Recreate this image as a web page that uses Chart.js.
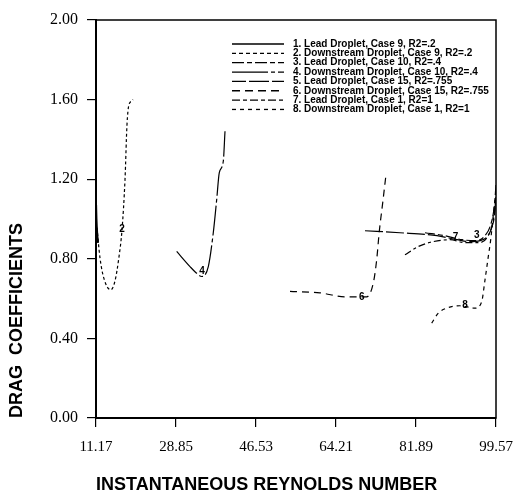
<!DOCTYPE html>
<html>
<head>
<meta charset="utf-8">
<script src="https://cdn.jsdelivr.net/npm/chart.js@4.4.0/dist/chart.umd.min.js"></script>
<style>
  html, body { margin: 0; padding: 0; background: #fff; }
  #wrap { width: 525px; height: 497px; }
</style>
</head>
<body>
<div id="wrap"><canvas id="grafico" width="525" height="497"></canvas></div>
<script>
// tick values
const xTicks = [11.17, 28.85, 46.53, 64.21, 81.89, 99.57];
const yTicks = [0, 0.4, 0.8, 1.2, 1.6, 2.0];

// series (Reynolds number, drag coefficient)
const lead9Re = [11.17, 11.25, 11.4, 11.6];
const lead9Cd = [1.07, 1.0, 0.93, 0.88];

const down9Re = [11.39, 12.05, 12.94, 14.42, 15.37, 16.25, 16.92, 17.58, 18.02, 18.46, 19.06, 19.35];
const down9Cd = [0.956, 0.805, 0.70, 0.644, 0.689, 0.81, 0.946, 1.198, 1.475, 1.575, 1.592, 1.60];

const lead10Re = [83.88, 88.3, 92.06, 94.93, 97.14, 98.46, 99.24, 99.57];
const lead10Cd = [0.931, 0.916, 0.896, 0.891, 0.916, 0.976, 1.072, 1.173];

const down10Re = [29.0, 31.94, 33.27, 34.53, 35.99, 37.09, 37.84, 38.42, 39.3, 39.68];
const down10Cd = [0.837, 0.761, 0.73, 0.711, 0.761, 0.931, 1.097, 1.233, 1.29, 1.441];

const lead15Re = [70.62, 78.35, 86.53, 90.95, 93.82, 96.03, 97.58, 98.68, 99.35, 99.57];
const lead15Cd = [0.941, 0.931, 0.916, 0.896, 0.886, 0.891, 0.911, 0.961, 1.047, 1.147];

const down15Re = [54.04, 60.67, 66.2, 70.99, 72.45, 73.2, 73.78, 74.53, 75.26];
const down15Cd = [0.636, 0.629, 0.609, 0.609, 0.678, 0.795, 0.938, 1.081, 1.223];

const lead1Re = [79.46, 82.33, 85.65, 89.41, 92.72, 95.6, 97.58, 98.91, 99.57];
const lead1Cd = [0.82, 0.861, 0.886, 0.896, 0.881, 0.881, 0.906, 0.986, 1.097];

const down1Re = [85.36, 86.82, 88.67, 91.61, 94.93, 96.41, 97.14, 97.87, 98.4, 98.91, 99.35];
const down1Cd = [0.477, 0.527, 0.552, 0.564, 0.552, 0.585, 0.694, 0.812, 0.896, 1.007, 1.097];

const legendLabels = [
  "1. Lead Droplet, Case 9, R2=.2",
  "2. Downstream Droplet, Case 9, R2=.2",
  "3. Lead Droplet, Case 10, R2=.4",
  "4. Downstream Droplet, Case 10, R2=.4",
  "5. Lead Droplet, Case 15, R2=.755",
  "6. Downstream Droplet, Case 15, R2=.755",
  "7. Lead Droplet, Case 1, R2=1",
  "8. Downstream Droplet, Case 1, R2=1"
];

// curve number tags: [text, Re, Cd]
const tagText = ["2", "4", "6", "8", "7", "3"];
const tagRe = [16.95, 34.6, 69.9, 92.7, 90.6, 95.3];
const tagCd = [0.946, 0.735, 0.609, 0.569, 0.906, 0.916];

const dashes = [[], [3, 2.5], [10, 3, 5, 3], [30, 3, 4, 3], [18, 3], [7, 5], [7, 3, 3, 3], [4, 4]];
const legendDashes = [[], [4, 3], [12, 3, 5, 3], [36, 3, 4, 3], [14, 3, 20, 3], [8, 5], [8, 3, 4, 3], [4, 4]];

function pares(re, cd) {
  return re.map((r, i) => ({ x: r, y: cd[i] }));
}

const series = [
  pares(lead9Re, lead9Cd), pares(down9Re, down9Cd),
  pares(lead10Re, lead10Cd), pares(down10Re, down10Cd),
  pares(lead15Re, lead15Cd), pares(down15Re, down15Cd),
  pares(lead1Re, lead1Cd), pares(down1Re, down1Cd)
];

const datasets = series.map((d, i) => ({
  label: legendLabels[i],
  data: d,
  borderColor: '#000',
  borderWidth: i === 0 ? 2.2 : 1.2,
  borderDash: dashes[i],
  pointRadius: 0,
  fill: false,
  cubicInterpolationMode: 'monotone'
}));

const extras = {
  id: 'extras',
  afterDraw(chart) {
    const ctx = chart.ctx;
    const a = chart.chartArea;
    const xs = chart.scales.x, ys = chart.scales.y;
    ctx.save();
    // frame
    ctx.strokeStyle = '#000';
    ctx.lineWidth = 1.5;
    ctx.setLineDash([]);
    ctx.strokeRect(a.left, a.top, a.right - a.left, a.bottom - a.top);

    // legend
    ctx.font = 'bold 10px "Liberation Sans", Arial, sans-serif';
    ctx.textBaseline = 'middle';
    ctx.fillStyle = '#000';
    legendLabels.forEach((t, i) => {
      const y = 44 + i * 9.35;
      ctx.beginPath();
      ctx.lineWidth = 1.3;
      ctx.setLineDash(legendDashes[i]);
      ctx.moveTo(232, y);
      ctx.lineTo(284, y);
      ctx.stroke();
      ctx.setLineDash([]);
      ctx.fillText(t, 293, y);
    });

    // tags on curves
    ctx.font = 'bold 10px "Liberation Sans", Arial, sans-serif';
    ctx.textAlign = 'center';
    tagText.forEach((t, i) => {
      const px = xs.getPixelForValue(tagRe[i]);
      const py = ys.getPixelForValue(tagCd[i]);
      ctx.fillText(t, px, py);
    });
    ctx.restore();
  }
};

new Chart(document.getElementById('grafico').getContext('2d'), {
  type: 'line',
  data: { datasets },
  options: {
    responsive: false,
    animation: false,
    layout: { padding: { top: 20, right: 29, left: 0, bottom: 0 } },
    plugins: { legend: { display: false }, tooltip: { enabled: false } },
    scales: {
      x: {
        type: 'linear',
        min: 11.17,
        max: 99.57,
        afterBuildTicks: (s) => { s.ticks = xTicks.map(v => ({ value: v })); },
        afterFit: (s) => { s.height = 79; },
        ticks: {
          color: '#000',
          padding: 11,
          maxRotation: 0,
          autoSkip: false,
          font: { family: '"Liberation Serif", "Times New Roman", serif', size: 15 },
          callback: (v) => Number(v).toFixed(2)
        },
        grid: { drawOnChartArea: false, tickLength: 9, color: '#000', lineWidth: 1.2 },
        border: { display: true, color: '#000', width: 2 },
        title: {
          display: true,
          text: 'INSTANTANEOUS REYNOLDS NUMBER',
          align: 'start',
          color: '#000',
          padding: { top: 1, bottom: 1 },
          font: { family: '"Liberation Sans", Arial, sans-serif', size: 18, weight: 'bold' }
        }
      },
      y: {
        min: 0,
        max: 2,
        afterBuildTicks: (s) => { s.ticks = yTicks.map(v => ({ value: v })); },
        afterFit: (s) => { s.width = 96; },
        ticks: {
          color: '#000',
          padding: 9,
          font: { family: '"Liberation Serif", "Times New Roman", serif', size: 16 },
          callback: (v) => Number(v).toFixed(2)
        },
        grid: { drawOnChartArea: false, tickLength: 9, color: '#000', lineWidth: 1.2 },
        border: { display: true, color: '#000', width: 2 },
        title: {
          display: true,
          text: 'DRAG  COEFFICIENTS',
          align: 'start',
          color: '#000',
          padding: { top: 6, bottom: 0 },
          font: { family: '"Liberation Sans", Arial, sans-serif', size: 18, weight: 'bold' }
        }
      }
    }
  },
  plugins: [extras]
});
</script>
</body>
</html>
